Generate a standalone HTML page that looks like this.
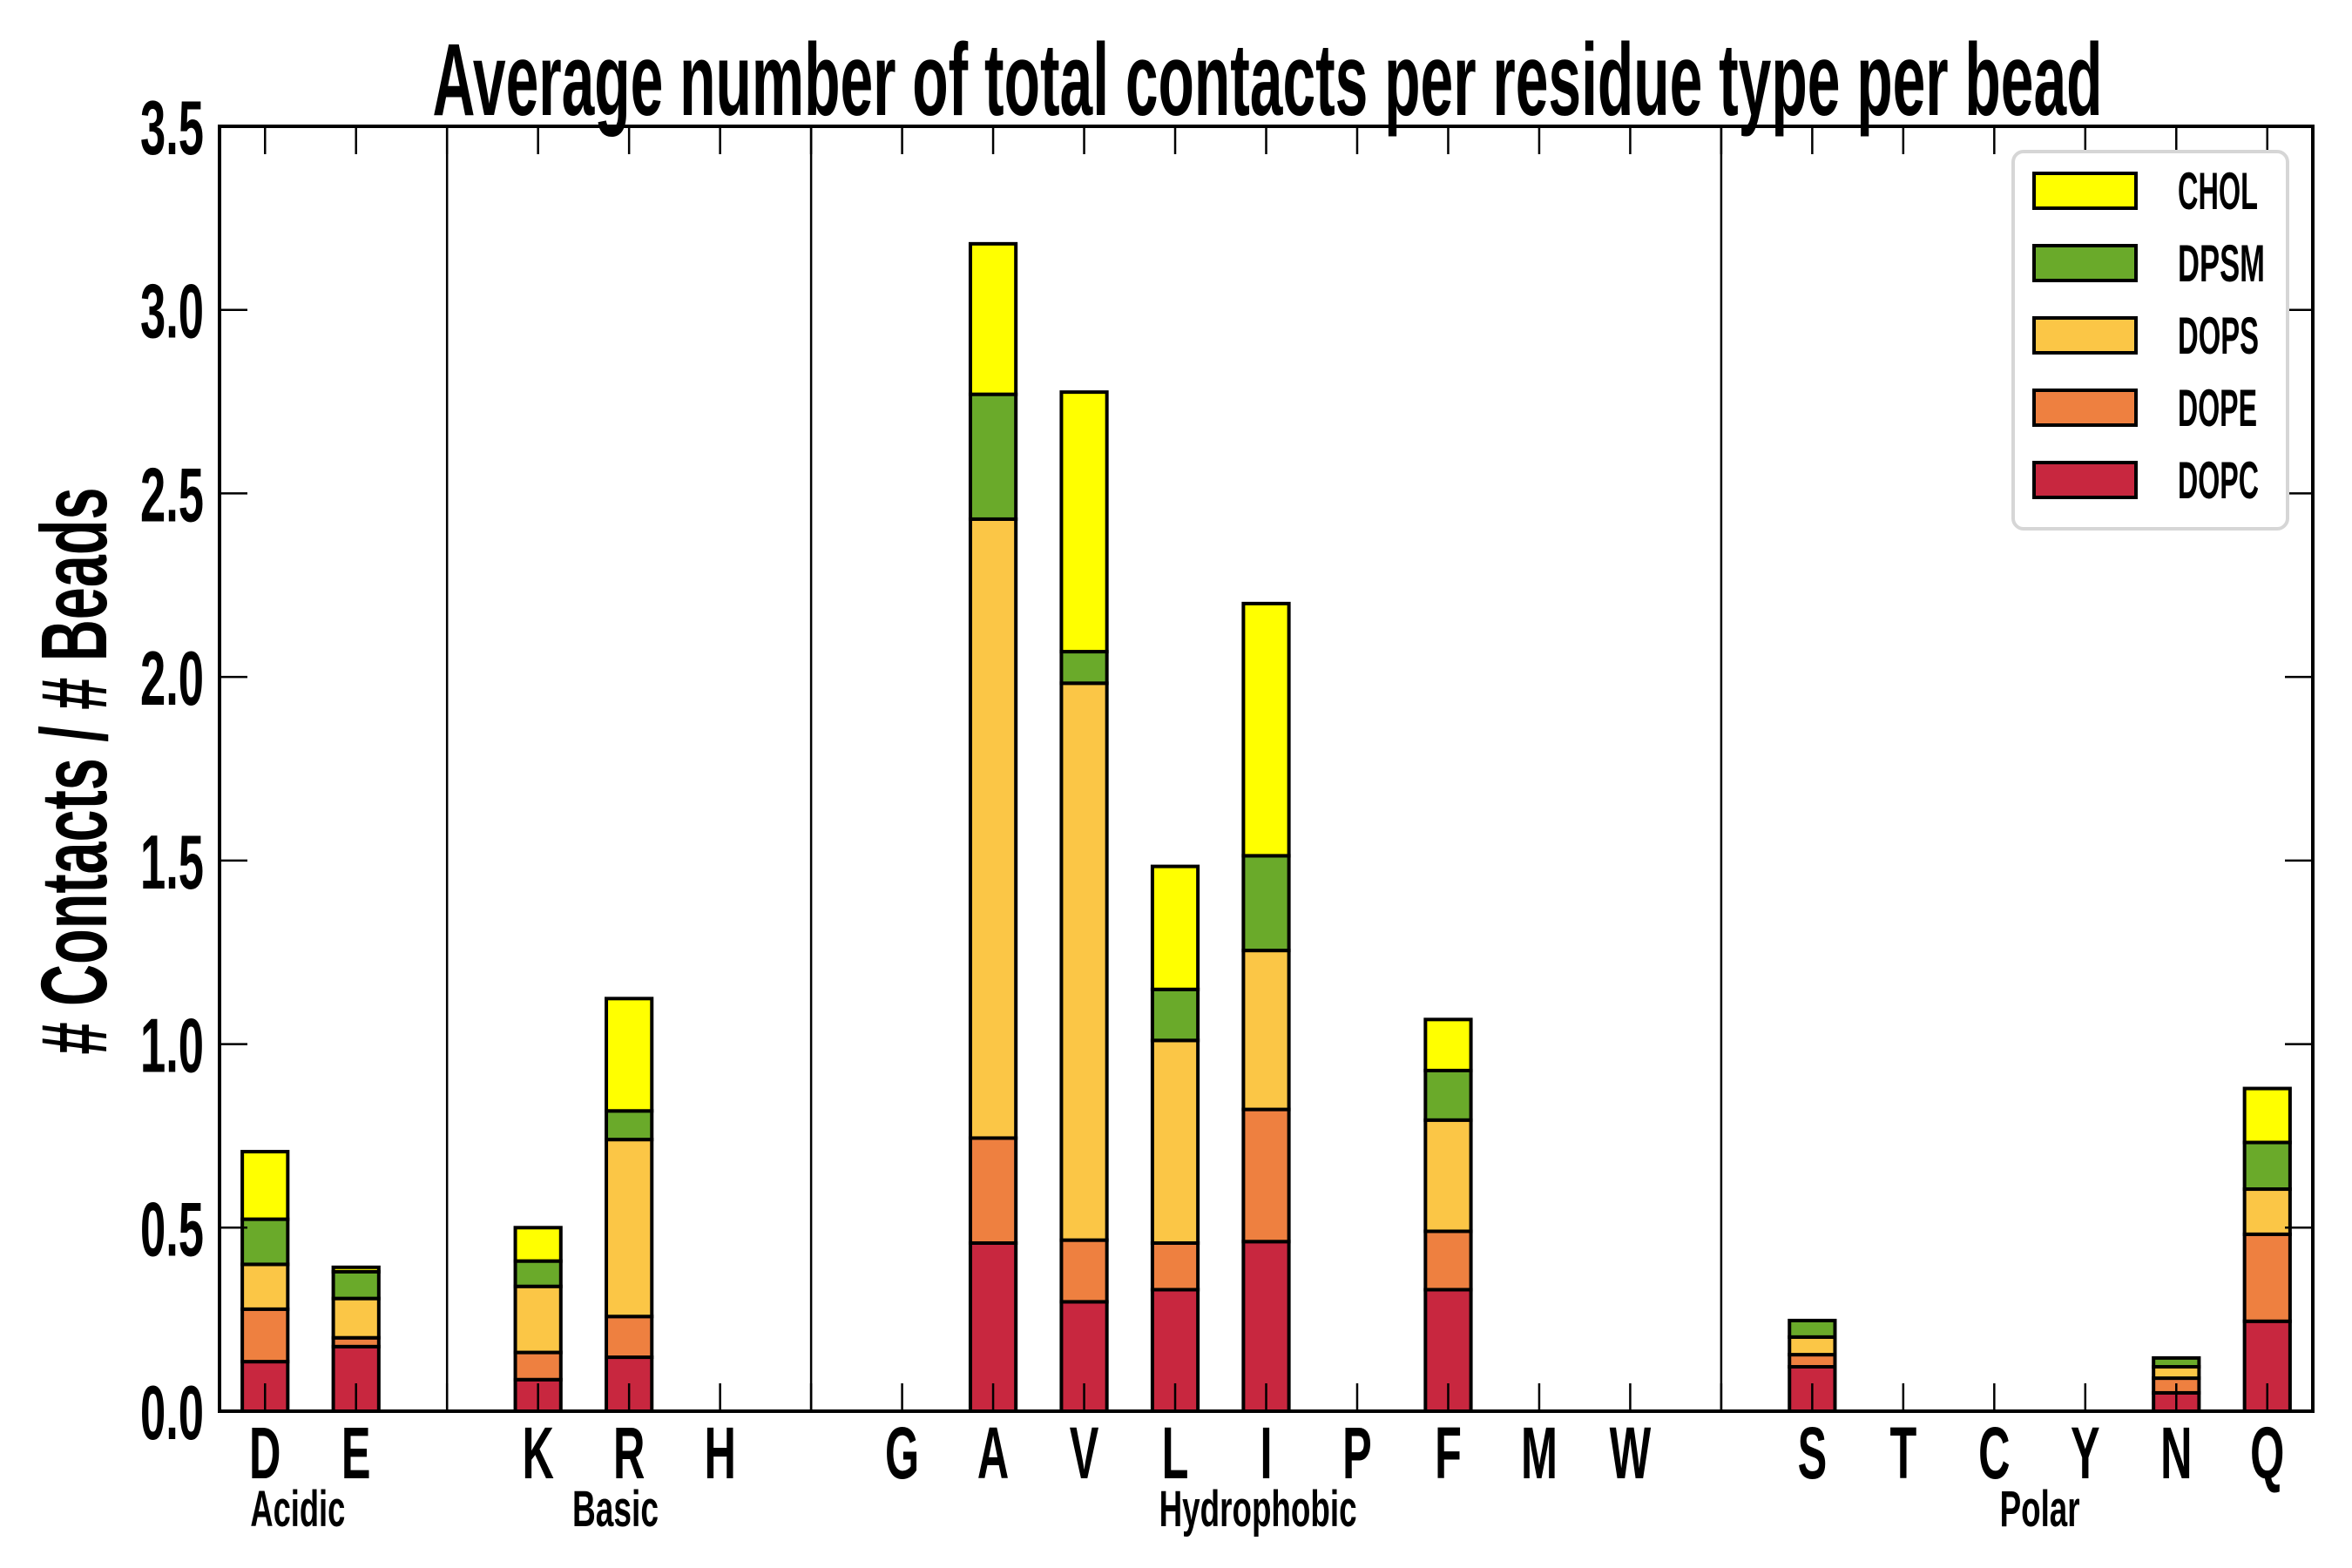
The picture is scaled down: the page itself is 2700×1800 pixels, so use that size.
<!DOCTYPE html>
<html><head><meta charset="utf-8"><style>
html,body{margin:0;padding:0;background:#fff;}
svg{display:block;}
text{font-family:"Liberation Sans Narrow","Liberation Sans",sans-serif;font-weight:bold;fill:#000;}
</style></head><body>
<svg id="chart" width="2700" height="1800" viewBox="0 0 2700 1800" xmlns="http://www.w3.org/2000/svg"></svg>
<script>
const categories = ["D","E","","K","R","H","","G","A","V","L","I","P","F","M","W","","S","T","C","Y","N","Q"];
const seriesNames = ["DOPC","DOPE","DOPS","DPSM","CHOL"];
const seriesColors = ["#c8273f","#ee8040","#fbc646","#6aaa2a","#ffff00"];
const dopc = [0.135,0.176,0,0.086,0.147,0,0,0,0.458,0.298,0.331,0.462,0,0.331,0,0,0,0.121,0,0,0,0.05,0.245];
const dope = [0.143,0.024,0,0.074,0.111,0,0,0,0.286,0.168,0.127,0.360,0,0.159,0,0,0,0.033,0,0,0,0.04,0.237];
const dops = [0.122,0.107,0,0.180,0.482,0,0,0,1.686,1.517,0.552,0.433,0,0.303,0,0,0,0.048,0,0,0,0.031,0.123];
const dpsm = [0.123,0.073,0,0.069,0.078,0,0,0,0.340,0.086,0.139,0.258,0,0.135,0,0,0,0.045,0,0,0,0.024,0.127];
const chol = [0.184,0.012,0,0.091,0.306,0,0,0,0.410,0.707,0.335,0.687,0,0.139,0,0,0,0,0,0,0,0,0.147];
const yTicks = [0.0,0.5,1.0,1.5,2.0,2.5,3.0,3.5];
const yTickLabels = ["0.0","0.5","1.0","1.5","2.0","2.5","3.0","3.5"];
const dividerSlots = [2,6,16];
const groupNames = ["Acidic","Basic","Hydrophobic","Polar"];
const groupCenters = [0.36,3.85,10.91,19.5];

const L=252,R=2655,T=145,B=1620,YMAX=3.5;
const N=categories.length, slot=(R-L)/N;
const xs = i => L + (i+0.5)*slot;
const ys = v => B - v/YMAX*(B-T);
const NS="http://www.w3.org/2000/svg";
const svg=document.getElementById('chart');
function mk(tag,attrs,parent){const e=document.createElementNS(NS,tag);for(const k in attrs)e.setAttribute(k,attrs[k]);(parent||svg).appendChild(e);return e;}

dividerSlots.forEach(s=>{
  const l=mk('line',{x1:xs(s),x2:xs(s),y1:T,y2:B,stroke:'#000','stroke-width':2.5});
  
  
});

const series=[dopc,dope,dops,dpsm,chol];
const bw=slot*0.5;
for(let i=0;i<N;i++){
  let base=0;
  for(let s=0;s<series.length;s++){
    const v=series[s][i];
    const y0=ys(base), y1=ys(base+v);
    const r=mk('rect',{x:xs(i)-bw/2,y:y1,width:bw,height:Math.max(0,y0-y1),fill:seriesColors[s],stroke:'#000','stroke-width':4});
    
    
    base+=v;
  }
}

for(let i=0;i<N;i++){
  const t1=mk('line',{x1:xs(i),x2:xs(i),y1:B,y2:B-32,stroke:'#000','stroke-width':2.5});
  
  
  const t2=mk('line',{x1:xs(i),x2:xs(i),y1:T,y2:T+32,stroke:'#000','stroke-width':2.5});
  
  
}
yTicks.forEach((v,k)=>{
  const a=mk('line',{x1:L,x2:L+32,y1:ys(v),y2:ys(v),stroke:'#000','stroke-width':2.5});
  
  
  const b=mk('line',{x1:R,x2:R-32,y1:ys(v),y2:ys(v),stroke:'#000','stroke-width':2.5});
  
  
  const t=mk('text',{x:234,y:ys(v)+32,'font-size':88,'text-anchor':'end',textLength:73,lengthAdjust:'spacingAndGlyphs'});
  t.textContent=yTickLabels[k];
  
  
});

const fr=mk('rect',{x:L,y:T,width:R-L,height:B-T,fill:'none',stroke:'#000','stroke-width':4});



categories.forEach((c,i)=>{
  if(!c)return;
  const t=mk('text',{'font-size':84,'text-anchor':'middle',transform:`translate(${xs(i)},1697) scale(0.6,1)`});
  t.textContent=c;
  
  
});
const gw=[109,99,227,92];
groupNames.forEach((g,k)=>{
  const t=mk('text',{x:xs(groupCenters[k]),y:1752,'font-size':58,'text-anchor':'middle',textLength:gw[k],lengthAdjust:'spacingAndGlyphs'});
  t.textContent=g;
  
  
});

const ti=mk('text',{x:1455,y:132,'font-size':118,'text-anchor':'middle',textLength:1917,lengthAdjust:'spacingAndGlyphs'});
ti.textContent='Average number of total contacts per residue type per bead';


const yt=mk('text',{x:0,y:0,'font-size':108,'text-anchor':'middle',textLength:651,lengthAdjust:'spacingAndGlyphs',transform:'translate(122,885) rotate(-90)'});
yt.textContent='# Contacts / # Beads';



const lg=mk('g',{});


mk('rect',{x:2311,y:174,width:315,height:433,rx:12,fill:'#fff',stroke:'#d6d6d6','stroke-width':4},lg);
const lw=[92,100,93,91,93];
for(let k=0;k<5;k++){
  const s=4-k, cy=219+k*83;
  const e=mk('g',{},lg);
  
  
  mk('rect',{x:2335,y:cy-20,width:117,height:40,fill:seriesColors[s],stroke:'#000','stroke-width':4},e);
  const t=mk('text',{x:2500,y:cy+21,'font-size':60,textLength:lw[k],lengthAdjust:'spacingAndGlyphs'},e);
  t.textContent=seriesNames[s];
}
</script>
</body></html>
